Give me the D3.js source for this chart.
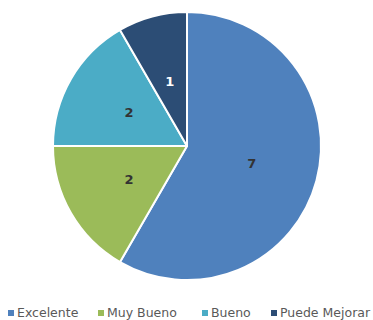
<!DOCTYPE html>
<html>
<head>
<meta charset="utf-8">
<script src="https://cdn.jsdelivr.net/npm/d3@7/dist/d3.min.js"></script>
<style>
  html, body { margin: 0; padding: 0; background: #fff; }
  svg { display: block; }
</style>
</head>
<body>
<svg id="chart" width="373" height="320"></svg>
<script>
const categories = ["Excelente", "Muy Bueno", "Bueno", "Puede Mejorar"];
const values = [7, 2, 2, 1];
const colors = ["#4F81BD", "#9BBB59", "#4BACC6", "#2C4D75"];
const labelColors = ["#333333", "#333333", "#333333", "#ffffff"];

const svg = d3.select("#chart");
const cx = 187, cy = 146, R = 134;

const data = categories.map((c, i) => ({ name: c, value: values[i], color: colors[i], lc: labelColors[i] }));

const pie = d3.pie().value(d => d.value).sort(null);
const arc = d3.arc().innerRadius(0).outerRadius(R);

const g = svg.append("g").attr("transform", `translate(${cx},${cy})`);
const arcs = pie(data);

g.selectAll("path").data(arcs).enter().append("path")
  .attr("d", arc)
  .attr("fill", d => d.data.color)
  .attr("stroke", "#fff")
  .attr("stroke-width", 2)
  .attr("stroke-linejoin", "round");

g.selectAll("text.val").data(arcs).enter().append("text")
  .attr("class", "val")
  .attr("transform", d => `translate(${arc.centroid(d)})`)
  .attr("text-anchor", "middle")
  .attr("dy", "0.35em")
  .attr("font-family", "'DejaVu Sans', sans-serif")
  .attr("font-weight", "bold")
  .attr("font-size", 13)
  .attr("fill", d => d.data.lc)
  .text(d => d.data.value);

// Legend along the bottom
const legendX = [8, 98, 202, 271];
const legend = svg.append("g").attr("transform", "translate(0,313)");
const items = legend.selectAll("g").data(data).enter().append("g")
  .attr("transform", (d, i) => `translate(${legendX[i]},0)`);
items.append("rect")
  .attr("x", 0).attr("y", -3).attr("width", 6).attr("height", 6)
  .attr("fill", d => d.color);
items.append("text")
  .attr("x", 9).attr("y", 0).attr("dy", "0.35em")
  .attr("font-family", "'DejaVu Sans', sans-serif")
  .attr("font-size", 12.5)
  .attr("fill", "#595959")
  .text(d => d.name);
</script>
</body>
</html>
